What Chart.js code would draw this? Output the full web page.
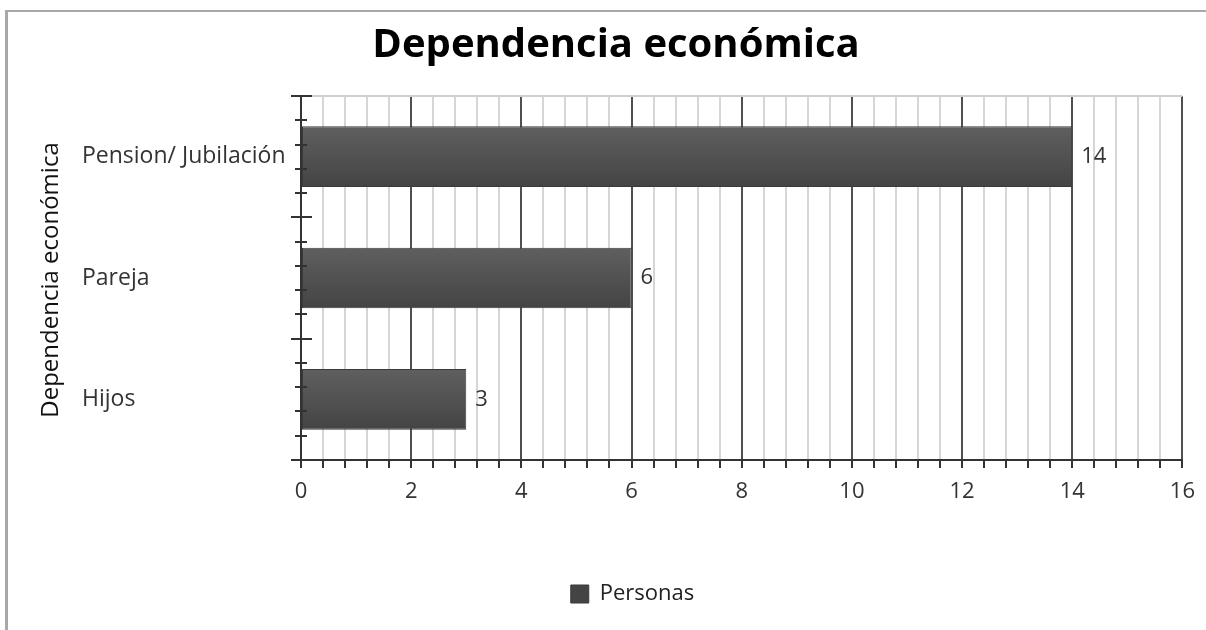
<!DOCTYPE html>
<html>
<head>
<meta charset="utf-8">
<script src="https://cdn.jsdelivr.net/npm/chart.js@4"></script>
<style>
  html, body { margin: 0; padding: 0; background: #fff; }
  #wrap { position: relative; width: 1206px; height: 630px; overflow: hidden; }
  #frame { position: absolute; left: 5px; top: 10px; right: -10px; bottom: -10px;
           border-left: 3px solid #a8a8a8; border-top: 2px solid #a8a8a8; }
  #chart { position: absolute; left: 0; top: 0; }
</style>
</head>
<body>
<div id="wrap">
  <div id="frame"></div>
  <canvas id="chart" width="1206" height="630"></canvas>
</div>
<script>
// datos del gráfico
const categorias = ['Pension/ Jubilación', 'Pareja', 'Hijos'];
const personas = [14, 6, 3];
const tituloGrafico = 'Dependencia económica';
const tituloEjeY = 'Dependencia económica';
const nombreSerie = 'Personas';
const ejeXMin = 0;
const ejeXMax = 16;
const pasoMenor = 0.4;   // líneas finas
const pasoMayor = 2;     // líneas oscuras y etiquetas

const FUENTE = "'Open Sans', 'DejaVu Sans', sans-serif";
const esMayor = v => Math.abs(v / pasoMayor - Math.round(v / pasoMayor)) < 1e-6;

// título del eje Y, marcas del eje Y, línea superior y etiquetas de valores
const extras = {
  id: 'extras',
  afterLayout(chart) {
    // el título va centrado sobre todo el marco, no sólo sobre el área con padding
    if (chart.titleBlock) chart.titleBlock.left = 49;
  },
  afterDatasetsDraw(chart) {
    const ctx = chart.ctx;
    const area = chart.chartArea;
    const y = chart.scales.y;

    ctx.save();
    // línea superior gris claro
    ctx.strokeStyle = '#d0d0d0';
    ctx.lineWidth = 2;
    ctx.beginPath();
    ctx.moveTo(area.left, area.top);
    ctx.lineTo(area.right, area.top);
    ctx.stroke();

    // marcas del eje Y (mayores en los límites, 4 menores entre ellas)
    ctx.strokeStyle = '#333';
    ctx.lineWidth = 2;
    const n = categorias.length;
    for (let k = 0; k <= n * 5; k++) {
      const py = Math.round(y.getPixelForValue(-0.5 + k * 0.2));
      const mayor = k % 5 === 0;
      ctx.beginPath();
      ctx.moveTo(area.left - (mayor ? 10 : 6), py);
      ctx.lineTo(area.left + (mayor ? 11 : 6), py);
      ctx.stroke();
    }

    // etiquetas de los valores
    ctx.fillStyle = '#333';
    ctx.font = '22px ' + FUENTE;
    ctx.textBaseline = 'middle';
    ctx.textAlign = 'left';
    chart.getDatasetMeta(0).data.forEach((bar, i) => {
      ctx.fillText(String(personas[i]), bar.x + 9, bar.y);
    });

    // título del eje Y
    ctx.translate(51, (area.top + area.bottom) / 2 + 2);
    ctx.rotate(-Math.PI / 2);
    ctx.textAlign = 'center';
    ctx.fillStyle = '#111';
    ctx.font = '24px ' + FUENTE;
    ctx.fillText(tituloEjeY, 0, 0);
    ctx.restore();
  }
};

const ctx = document.getElementById('chart').getContext('2d');
new Chart(ctx, {
  type: 'bar',
  data: {
    labels: categorias,
    datasets: [{
      label: nombreSerie,
      data: personas,
      backgroundColor: (c) => {
        const chart = c.chart;
        const y = chart.scales.y;
        if (!chart.chartArea || !y || c.dataIndex === undefined) return '#525252';
        const mid = y.getPixelForValue(c.dataIndex);
        const half = Math.abs(y.getPixelForValue(c.dataIndex + 0.25) - mid);
        const g = chart.ctx.createLinearGradient(0, mid - half, 0, mid + half);
        g.addColorStop(0, '#5f5f5f');
        g.addColorStop(1, '#444444');
        return g;
      },
      borderColor: '#3a3a3a',
      borderWidth: 1,
      borderSkipped: false,
      categoryPercentage: 1,
      barPercentage: 0.5
    }]
  },
  options: {
    indexAxis: 'y',
    responsive: false,
    animation: false,
    layout: { padding: { left: 82, right: 23, top: 0, bottom: 15 } },
    scales: {
      x: {
        min: ejeXMin,
        max: ejeXMax,
        ticks: {
          stepSize: pasoMenor,
          autoSkip: false,
          maxRotation: 0,
          padding: 11,
          color: '#333',
          font: { family: FUENTE, size: 22 },
          callback: v => esMayor(v) ? String(Math.round(v)) : ''
        },
        grid: {
          color: c => esMayor(c.tick.value) ? '#505050' : '#d6d6d6',
          lineWidth: 2,
          tickLength: 8,
          tickColor: '#333',
          tickWidth: 2
        },
        border: { color: '#333', width: 2 },
        afterFit: s => { s.height = 113; }
      },
      y: {
        ticks: {
          crossAlign: 'far',
          color: '#333',
          font: { family: FUENTE, size: 23 }
        },
        grid: { display: false },
        border: { display: true, color: '#333', width: 2 },
        afterFit: s => { s.width = 219; }
      }
    },
    plugins: {
      title: {
        display: true,
        text: tituloGrafico,
        color: '#000',
        font: { family: FUENTE, size: 40, weight: 'bold' },
        padding: { top: 22, bottom: 26 }
      },
      legend: {
        position: 'bottom',
        labels: {
          boxWidth: 18,
          boxHeight: 18,
          padding: 10,
          color: '#222',
          font: { family: FUENTE, size: 22 }
        }
      },
      tooltip: { enabled: false }
    }
  },
  plugins: [extras]
});
</script>
</body>
</html>
